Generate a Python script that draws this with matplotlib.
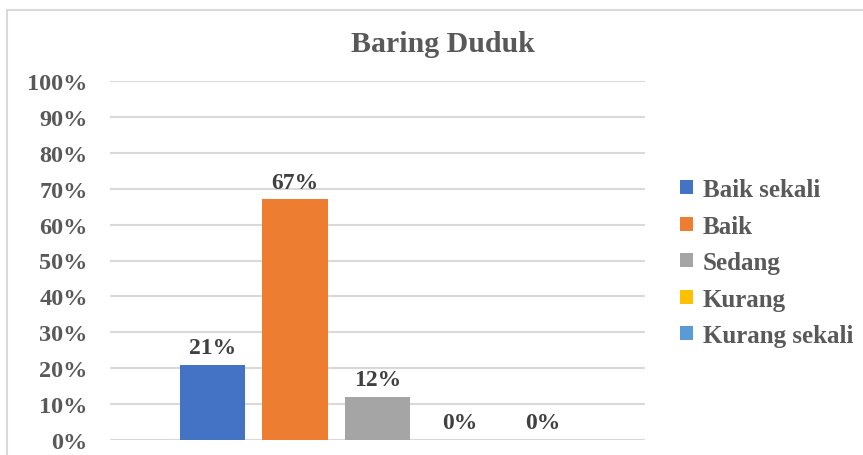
import matplotlib.pyplot as plt
import numpy as np
from matplotlib.patches import Patch, Rectangle
from matplotlib.ticker import PercentFormatter

# Data
categories = ['Baik sekali', 'Baik', 'Sedang', 'Kurang', 'Kurang sekali']
values = [21, 67, 12, 0, 0]
colors = ['#4472C4', '#ED7D31', '#A5A5A5', '#FFC000', '#5B9BD5']
title = 'Baring Duduk'

plt.rcParams['font.family'] = ['Liberation Serif', 'DejaVu Serif']
plt.rcParams['font.weight'] = 'bold'
text_color = '#595959'

W, H = 863, 456
fig = plt.figure(figsize=(W / 100, H / 100), dpi=100)

# outer chart frame (runs off the right and bottom edges like the crop)
fig.patches.append(Rectangle((7 / W, -0.05), 1.1, 1 - 11 / H + 0.05,
                             transform=fig.transFigure, fill=False,
                             edgecolor='#D9D9D9', linewidth=1.5))

ax = fig.add_axes([110 / W, 1 - 441 / H, 535 / W, (441 - 82) / H])

x = np.arange(len(categories))
bars = ax.bar(x, values, width=0.79, color=colors, zorder=3)

ax.set_xlim(-1.24, 5.24)
ax.set_ylim(0, 100)
ax.set_yticks(np.arange(0, 101, 10))
ax.yaxis.set_major_formatter(PercentFormatter(decimals=0))
ax.set_xticks([])
ax.tick_params(axis='y', length=0, pad=16, labelsize=17.5, labelcolor=text_color)
for lab in ax.get_yticklabels():
    lab.set_fontweight('bold')

ax.grid(True, axis='y', color='#D9D9D9', linewidth=1.5, zorder=0)
for s in ax.spines.values():
    s.set_visible(False)

ax.bar_label(bars, labels=[f'{v}%' for v in values], padding=5,
             fontsize=17, fontweight='bold', color='#404040')

fig.text(443 / W, 1 - 44 / H, title, ha='center', va='center',
         fontsize=21.5, fontweight='bold', color=text_color)

handles = [Patch(facecolor=c, label=l) for c, l in zip(colors, categories)]
leg = fig.legend(handles=handles, loc='upper left',
                 bbox_to_anchor=(680 / W, 1 - 179 / H), frameon=False,
                 prop={'size': 18, 'weight': 'bold'}, handlelength=0.5,
                 handleheight=0.5, handletextpad=0.4, labelspacing=0.54,
                 borderaxespad=0, borderpad=0)
for t in leg.get_texts():
    t.set_color(text_color)

plt.savefig('out.png', dpi=100)
